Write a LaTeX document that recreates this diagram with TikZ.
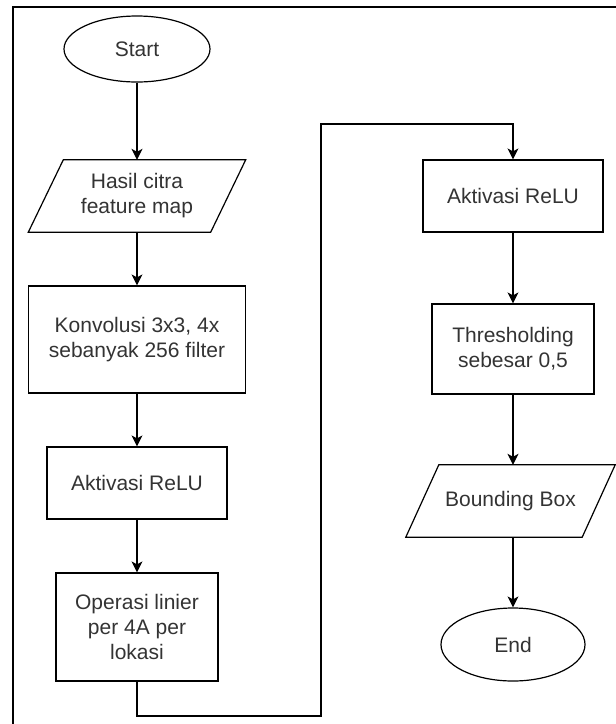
\documentclass[tikz,border=0pt]{standalone}
\usepackage{fontspec}
\setmainfont{Liberation Sans}
\usetikzlibrary{shapes.geometric,arrows.meta}
\begin{document}
\begin{tikzpicture}[x=1pt,y=-1pt,
  every node/.style={font=\fontsize{21}{25}\selectfont, text=black!80, align=center},
  term/.style={ellipse, draw, line width=1.2pt, inner sep=0pt},
  proc/.style={rectangle, draw, line width=1.2pt, inner sep=0pt},
  iobox/.style={rectangle, inner sep=0pt},
  para/.style={line width=1.2pt},
  flow/.style={line width=1.2pt, -{Stealth[length=11pt,width=11pt,inset=3pt]}},
  frame/.style={line width=2pt}]
\useasboundingbox (0,0) rectangle (616,724);
\draw[frame] (13,724) -- (13,7) -- (616,7);

\node[term, minimum width=146pt, minimum height=66pt] (start) at (137,49) {Start};
\node[iobox, minimum width=217pt, minimum height=72pt] (in) at (137,196) {Hasil citra\\feature map};
\draw[para] ([xshift=35pt]in.north west) -- (in.north east) -- ([xshift=-35pt]in.south east) -- (in.south west) -- cycle;
\node[proc, minimum width=217pt, minimum height=107pt] (conv) at (137,339.5) {Konvolusi 3x3, 4x\\sebanyak 256 filter};
\node[proc, minimum width=180pt, minimum height=72pt] (relua) at (137,483) {Aktivasi ReLU};
\node[proc, minimum width=162pt, minimum height=108pt] (op) at (137,627) {Operasi linier\\per 4A per\\lokasi};

\node[proc, minimum width=180pt, minimum height=72pt] (relub) at (513,196) {Aktivasi ReLU};
\node[proc, minimum width=162pt, minimum height=90pt] (thr) at (513,349) {Thresholding\\sebesar 0,5};
\node[iobox, minimum width=209pt, minimum height=72pt] (bb) at (510.5,501) {Bounding Box};
\draw[para] ([xshift=33pt]bb.north west) -- (bb.north east) -- ([xshift=-33pt]bb.south east) -- (bb.south west) -- cycle;
\node[term, minimum width=144pt, minimum height=73pt] (end) at (513,644.5) {End};

\draw[flow] (start) -- (in.north);
\draw[flow] (in.south) -- (conv);
\draw[flow] (conv) -- (relua);
\draw[flow] (relua) -- (op);
\draw[flow] (op.south) -- (op.south |- 0,716) -- (321,716) -- (321,124) -- (relub.north |- 0,124) -- (relub.north);
\draw[flow] (relub) -- (thr);
\draw[flow] (thr) -- (bb.north -| thr.south);
\draw[flow] (bb.south -| end.north) -- (end);
\end{tikzpicture}
\end{document}
